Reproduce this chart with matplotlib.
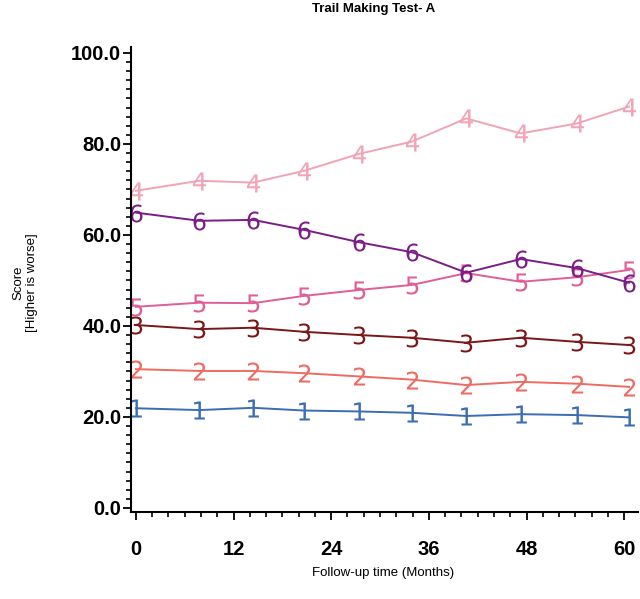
import matplotlib
matplotlib.use("Agg")
import matplotlib.pyplot as plt
from matplotlib.ticker import MultipleLocator, FormatStrFormatter

plt.rcParams["mathtext.fontset"] = "custom"
plt.rcParams["mathtext.rm"] = "Liberation Sans Narrow"

months = [0, 7.8, 14.4, 20.7, 27.4, 33.9, 40.6, 47.3, 54.2, 60.6]
s1 = [21.9, 21.5, 22.0, 21.4, 21.2, 20.9, 20.2, 20.6, 20.4, 19.9]
s2 = [30.5, 30.1, 30.1, 29.6, 28.9, 28.2, 27.0, 27.7, 27.3, 26.6]
s3 = [40.2, 39.3, 39.6, 38.7, 38.0, 37.4, 36.3, 37.4, 36.5, 35.8]
s4 = [69.7, 71.9, 71.5, 74.1, 77.8, 80.5, 85.6, 82.3, 84.5, 88.2]
s5 = [44.2, 45.1, 45.0, 46.6, 47.9, 49.0, 51.6, 49.7, 50.7, 52.3]
s6 = [64.9, 63.1, 63.3, 61.1, 58.4, 56.2, 51.7, 54.7, 52.7, 49.5]
series = [("1", s1, "#3b6db3"), ("2", s2, "#ee6b62"), ("3", s3, "#7a1616"),
          ("4", s4, "#f2a3b5"), ("5", s5, "#df5e97"), ("6", s6, "#7a1d86")]
xticks = [0, 12, 24, 36, 48, 60]
yticks = [0, 20, 40, 60, 80, 100]

fig = plt.figure(figsize=(6.40, 5.99), dpi=100)
ax = fig.add_axes([131/640, 1-512/599, 507/640, (512-47)/599])

for lab, vals, col in series:
    ax.plot(months, vals, color=col, lw=1.4, marker=r"$\mathrm{" + lab + "}$",
            markersize=13, markeredgewidth=0.0, markerfacecolor=col,
            markeredgecolor=col)

ax.set_xlim(-0.6, 61.7)
ax.set_ylim(-0.9, 101.3)
for s in ["top", "right"]:
    ax.spines[s].set_visible(False)
ax.spines["left"].set_linewidth(1.5)
ax.spines["bottom"].set_linewidth(1.5)
ax.set_xticks(xticks)
ax.set_yticks(yticks)
ax.xaxis.set_minor_locator(MultipleLocator(2))
ax.yaxis.set_minor_locator(MultipleLocator(2))
ax.yaxis.set_major_formatter(FormatStrFormatter("%.1f"))
ax.tick_params(which="major", length=6, width=1.3, direction="out")
ax.tick_params(which="minor", length=3.5, width=1.2, direction="out")
fam = ["Liberation Sans Narrow", "Liberation Sans", "DejaVu Sans"]
for t in ax.get_xticklabels() + ax.get_yticklabels():
    t.set_fontfamily(fam)
    t.set_fontweight("bold")
    t.set_fontsize(14.5)
ax.tick_params(axis="x", pad=14)
ax.tick_params(axis="y", pad=1)

fig.text(374/640, 1-9/599, "Trail Making Test- A", ha="center", va="center",
         fontsize=9.5, fontweight="bold", family=fam)
fig.text(383/640, 1-573/599, "Follow-up time (Months)", ha="center", va="center",
         fontsize=9.5, family=["Liberation Sans", "DejaVu Sans"])
fig.text(25/640, 1-283/599, "Score\n[Higher is worse]", ha="center", va="center",
         rotation=90, fontsize=9.5, family=["Liberation Sans", "DejaVu Sans"],
         linespacing=1.2)

fig.savefig("out.png", dpi=100)
